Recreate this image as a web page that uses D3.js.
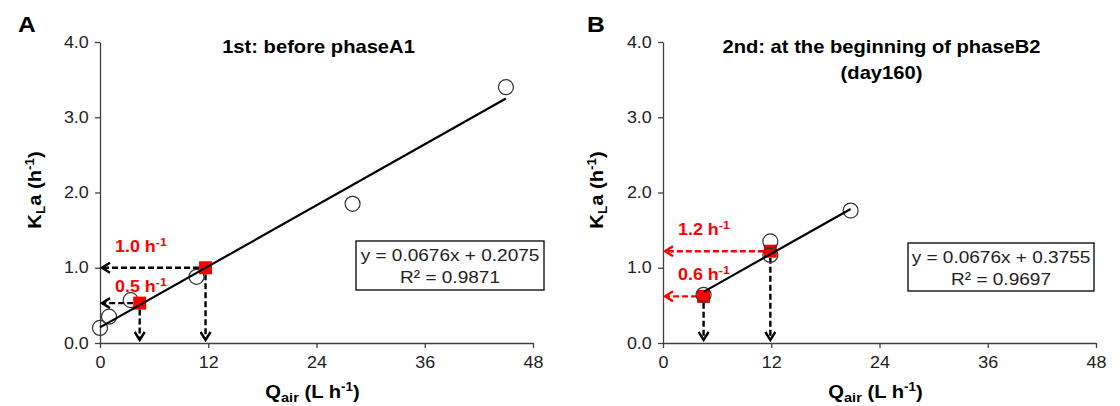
<!DOCTYPE html>
<html><head><meta charset="utf-8">
<script src="https://cdn.jsdelivr.net/npm/d3@7"></script>
<style>
body{margin:0;background:#fff}
text{font-family:Arial,"Liberation Sans",sans-serif}
</style>
</head><body>
<svg id="chart" width="1120" height="406"></svg>
<script>
// ---------- data ----------
const xTicks = [0, 12, 24, 36, 48];
const yTicks = [0, 1, 2, 3, 4];

const qairA = [0, 1, 3.4, 10.7, 28, 45];
const klaA  = [0.2, 0.35, 0.57, 0.88, 1.85, 3.4];
const targetQA = [4.4, 11.7];
const targetKA = [0.53, 1.0];
const targetLabelA = ["0.5", "1.0"];
const fitA = [0.0676, 0.2075];          // slope, intercept
const fitRangeA = [0, 45];
const eqA = ["y = 0.0676x + 0.2075", "R² = 0.9871"];
const titleA = ["1st: before phaseA1"];

const qairB = [4.5, 11.9, 11.9, 20.8];
const klaB  = [0.64, 1.35, 1.17, 1.76];
const targetQB = [4.5, 11.9];
const targetKB = [0.62, 1.22];
const targetLabelB = ["0.6", "1.2"];
const fitB = [0.0676, 0.3755];
const fitRangeB = [4.5, 20.8];
const eqB = ["y = 0.0676x + 0.3755", "R² = 0.9697"];
const titleB = ["2nd: at the beginning of phaseB2", "(day160)"];

// ---------- layout ----------
const svg = d3.select("#chart");
const SX = 1.12; // horizontal glyph stretch of the reference font
const yScale = d3.scaleLinear().domain([0, 4]).range([343, 42]);

const panels = [
  {letter:"A", x0:100, x1:533, q:qairA, k:klaA, tq:targetQA, tk:targetKA, tl:targetLabelA,
   labelDy:[-11,-16], fit:fitA, fr:fitRangeA, eq:eqA, title:titleA, hColor:"#000",
   box:[356,241,188,49], letterX:18, ytX:35},
  {letter:"B", x0:663, x1:1096, q:qairB, k:klaB, tq:targetQB, tk:targetKB, tl:targetLabelB,
   labelDy:[-16,-16], fit:fitB, fr:fitRangeB, eq:eqB, title:titleB, hColor:"#ff0000",
   box:[908,243,186,48], letterX:587, ytX:597}
];

function txt(g, x, y, size, weight, anchor, fill, rot) {
  return g.append("text")
    .attr("transform", `translate(${x},${y})` + (rot ? ` rotate(${rot})` : "") + ` scale(${SX},1)`)
    .attr("font-size", size).attr("font-weight", weight)
    .attr("text-anchor", anchor).attr("fill", fill);
}

// arrow-head marker defs (open chevrons)
const defs = svg.append("defs");
[["arrBlack","#000"],["arrRed","#ff0000"]].forEach(([id,c]) => {
  defs.append("marker").attr("id", id).attr("viewBox","0 0 12 12")
    .attr("refX", 10).attr("refY", 6).attr("markerWidth", 12).attr("markerHeight", 12)
    .attr("markerUnits","userSpaceOnUse").attr("orient","auto")
    .append("path").attr("d","M2,1 L10,6 L2,11").attr("fill","none")
    .attr("stroke", c).attr("stroke-width", 2.4).attr("stroke-linejoin","miter");
});

panels.forEach(p => {
  const x = d3.scaleLinear().domain([0, 48]).range([p.x0, p.x1]);
  const g = svg.append("g");

  // axes
  const ya = g.append("g").attr("transform", `translate(${p.x0},0)`)
    .call(d3.axisLeft(yScale).tickValues(yTicks).tickFormat(d3.format(".1f"))
      .tickSize(5).tickSizeOuter(0).tickPadding(5));
  const xa = g.append("g").attr("transform", `translate(0,${yScale(0)})`)
    .call(d3.axisBottom(x).tickValues(xTicks).tickSize(5).tickSizeOuter(0).tickPadding(9));
  [ya, xa].forEach(a => {
    a.select(".domain").attr("stroke", "#404040").attr("stroke-width", 1.3);
    a.selectAll(".tick line").attr("stroke", "#404040").attr("stroke-width", 1.3);
    a.selectAll(".tick text").attr("font-size", 16).attr("fill", "#222")
      .attr("font-family", "Arial, 'Liberation Sans', sans-serif")
      .attr("transform", `scale(${SX},1)`);
  });

  // panel letter
  txt(g, p.letterX, 32, 22, "bold", "start", "#000").text(p.letter);

  // title
  const cx = (p.x0 + p.x1) / 2 + 2;
  p.title.forEach((s, i) => txt(g, cx, 53 + i * 26, 18, "bold", "middle", "#000").text(s));

  // axis titles
  const xt = txt(g, cx - 6, 398, 18, "bold", "middle", "#000");
  xt.append("tspan").text("Q");
  xt.append("tspan").attr("font-size", 13).attr("dy", 4).text("air");
  xt.append("tspan").attr("dy", -4).text(" (L h");
  xt.append("tspan").attr("font-size", 12).attr("dy", -7).text("-1");
  xt.append("tspan").attr("dy", 7).text(")");

  const yt = txt(g, p.ytX + 6, 190, 18, "bold", "middle", "#000", -90);
  yt.append("tspan").text("K");
  yt.append("tspan").attr("font-size", 12).attr("dy", 4).text("L");
  yt.append("tspan").attr("dy", -4).text("a (h");
  yt.append("tspan").attr("font-size", 12).attr("dy", -7).text("-1");
  yt.append("tspan").attr("dy", 7).text(")");

  const sq = 13;
  const targets = p.tq.map((q, i) => ({q, k: p.tk[i], label: p.tl[i], dy: p.labelDy[i]}));

  // horizontal dashed arrows (to y axis)
  g.selectAll(".harr").data(targets).join("line")
    .attr("x1", d => x(d.q) - sq / 2).attr("x2", x(0) + 2)
    .attr("y1", d => yScale(d.k)).attr("y2", d => yScale(d.k))
    .attr("stroke", p.hColor).attr("stroke-width", 2.4).attr("stroke-dasharray", "6,3")
    .attr("marker-end", p.hColor === "#000" ? "url(#arrBlack)" : "url(#arrRed)");
  // vertical dashed arrows (to x axis)
  g.selectAll(".varr").data(targets).join("line")
    .attr("x1", d => x(d.q)).attr("x2", d => x(d.q))
    .attr("y1", d => yScale(d.k) + sq / 2).attr("y2", yScale(0) - 3)
    .attr("stroke", "#000").attr("stroke-width", 2.4).attr("stroke-dasharray", "6,3")
    .attr("marker-end", "url(#arrBlack)");

  const pts = p.q.map((q, i) => ({q, k: p.k[i]}));
  const drawCircles = () => g.selectAll(null).data(pts).join("circle")
    .attr("cx", d => x(d.q)).attr("cy", d => yScale(d.k)).attr("r", 7.5)
    .attr("fill", "none").attr("stroke", "#333").attr("stroke-width", 1.2);
  const drawSquares = () => g.selectAll(null).data(targets).join("rect")
    .attr("x", d => x(d.q) - sq / 2).attr("y", d => yScale(d.k) - sq / 2)
    .attr("width", sq).attr("height", sq).attr("fill", "#ff0000");

  if (p.letter === "A") { drawCircles(); drawSquares(); } else { drawSquares(); drawCircles(); }

  // fitted line
  g.append("line")
    .attr("x1", x(p.fr[0])).attr("y1", yScale(p.fit[0] * p.fr[0] + p.fit[1]))
    .attr("x2", x(p.fr[1])).attr("y2", yScale(p.fit[0] * p.fr[1] + p.fit[1]))
    .attr("stroke", "#000").attr("stroke-width", 2.2);

  // red labels
  targets.forEach(d => {
    const t = txt(g, x(0) + 15, yScale(d.k) + d.dy, 16, "bold", "start", "#ff0000");
    t.append("tspan").text(d.label + " h");
    t.append("tspan").attr("font-size", 11).attr("dy", -6).text("-1");
  });

  // equation box
  const [bx, by, bw, bh] = p.box;
  g.append("rect").attr("x", bx).attr("y", by).attr("width", bw).attr("height", bh)
    .attr("fill", "#fff").attr("stroke", "#000").attr("stroke-width", 1.3);
  p.eq.forEach((s, i) => txt(g, bx + bw / 2, by + 20 + i * 22, 17, "normal", "middle", "#222").text(s));
});
</script>
</body></html>
